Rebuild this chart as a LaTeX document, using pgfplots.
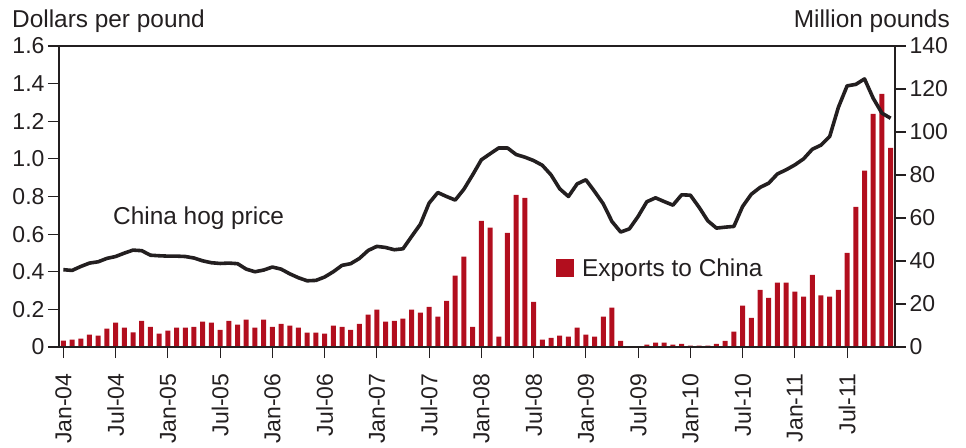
\documentclass[border=0pt]{standalone}
\usepackage{pgfplots}
\pgfplotsset{compat=1.18}
\usepackage{fontspec}
\setmainfont{Liberation Sans}
\definecolor{hogred}{RGB}{178,14,30}
\definecolor{ink}{RGB}{35,31,32}

\begin{document}
\begin{tikzpicture}
\pgfplotsset{
  base/.style={
    width=836pt, height=301pt, scale only axis,
    xmin=-0.5, xmax=95.5,
    font=\fontsize{23}{26}\selectfont,
    /pgf/number format/assume math mode=true,
    tick align=outside,
    major tick length=11pt,
    every tick/.style={ink, line width=1.2pt},
    axis line style={ink, line width=1.2pt},
  }
}
\begin{axis}[base, at={(0,0)}, anchor=south west,
  axis y line*=right, axis x line=none,
  ymin=0, ymax=140, ytick={0,20,40,60,80,100,120,140},
  yticklabel style={ink}]
\addplot[ybar, bar width=5pt, fill=hogred, draw=none] coordinates {
(0,3) (1,3.4) (2,3.9) (3,5.7) (4,5.3) (5,8.5) (6,11.3) (7,9) (8,6.8) (9,12.2) (10,9.4) (11,6.2)
(12,7.6) (13,9) (14,9) (15,9.4) (16,11.8) (17,11.3) (18,8) (19,12.2) (20,10.4) (21,12.7) (22,9) (23,12.7)
(24,9.4) (25,10.8) (26,9.9) (27,9) (28,6.7) (29,6.7) (30,6.2) (31,9.9) (32,9.4) (33,8) (34,10.8) (35,15)
(36,17.4) (37,11.8) (38,12.2) (39,13.2) (40,17.4) (41,16) (42,18.7) (43,14.1) (44,21.5) (45,33.2) (46,42) (47,9.4)
(48,58.7) (49,55.5) (50,4.8) (51,53.1) (52,70.8) (53,69.4) (54,21) (55,3.4) (56,4.3) (57,5.3) (58,4.8) (59,9)
(60,5.7) (61,4.8) (62,14.1) (63,18.3) (64,2.9) (65,0) (66,0) (67,1.1) (68,2) (69,2) (70,1.1) (71,1.5)
(72,0.6) (73,0.6) (74,0.6) (75,1.5) (76,2.9) (77,7.1) (78,19.2) (79,13.6) (80,26.6) (81,22.9) (82,29.9) (83,29.9)
(84,25.7) (85,23.4) (86,33.6) (87,24) (88,23.4) (89,26.6) (90,43.8) (91,65.2) (92,82) (93,108.4) (94,117.7) (95,92.6)
};
\end{axis}
\begin{axis}[base, at={(0,0)}, anchor=south west,
  ymin=0, ymax=1.6, ytick={0,0.2,0.4,0.6,0.8,1.0,1.2,1.4,1.6},
  yticklabels={0,0.2,0.4,0.6,0.8,1.0,1.2,1.4,1.6},
  ytick pos=left, xtick pos=bottom,
  xtick={0,6,12,18,24,30,36,42,48,54,60,66,72,78,84,90},
  xticklabels={Jan-04,Jul-04,Jan-05,Jul-05,Jan-06,Jul-06,Jan-07,Jul-07,Jan-08,Jul-08,Jan-09,Jul-09,Jan-10,Jul-10,Jan-11,Jul-11},
  xticklabel style={rotate=90, anchor=east, ink, xshift=-12pt},
  yticklabel style={ink}]
\addplot[ink, line width=3.6pt, line join=round] coordinates {
(0,0.411) (1,0.407) (2,0.428) (3,0.446) (4,0.453) (5,0.471) (6,0.481) (7,0.499) (8,0.515) (9,0.512) (10,0.488) (11,0.485)
(12,0.483) (13,0.483) (14,0.481) (15,0.473) (16,0.458) (17,0.448) (18,0.444) (19,0.446) (20,0.443) (21,0.414) (22,0.400) (23,0.409)
(24,0.425) (25,0.414) (26,0.389) (27,0.368) (28,0.352) (29,0.354) (30,0.372) (31,0.400) (32,0.434) (33,0.443) (34,0.471) (35,0.513)
(36,0.535) (37,0.529) (38,0.517) (39,0.522) (40,0.588) (41,0.653) (42,0.765) (43,0.821) (44,0.800) (45,0.781) (46,0.839) (47,0.915)
(48,0.995) (49,1.027) (50,1.058) (51,1.058) (52,1.023) (53,1.009) (54,0.991) (55,0.966) (56,0.915) (57,0.841) (58,0.800) (59,0.867)
(60,0.889) (61,0.827) (62,0.761) (63,0.667) (64,0.611) (65,0.628) (66,0.694) (67,0.772) (68,0.793) (69,0.773) (70,0.754) (71,0.809)
(72,0.807) (73,0.743) (74,0.671) (75,0.632) (76,0.637) (77,0.641) (78,0.747) (79,0.812) (80,0.848) (81,0.871) (82,0.920) (83,0.942)
(84,0.968) (85,1.000) (86,1.051) (87,1.073) (88,1.119) (89,1.274) (90,1.388) (91,1.396) (92,1.425) (93,1.322) (94,1.243) (95,1.216)
};
\end{axis}
\node[anchor=base west, inner sep=0pt, ink, font=\fontsize{24.4}{28}\selectfont] at (-47pt,319pt) {Dollars per pound};
\node[anchor=base east, inner sep=0pt, ink, font=\fontsize{24.4}{28}\selectfont] at (891pt,319pt) {Million pounds};
\node[anchor=base west, inner sep=0pt, ink, font=\fontsize{24.4}{28}\selectfont] at (54pt,122pt) {China hog price};
\node[anchor=base west, inner sep=0pt, ink, font=\fontsize{24.4}{28}\selectfont] at (497pt,70pt) {\textcolor{hogred}{\rule{18pt}{18pt}}\hspace{8pt}Exports to China};
\path (-59pt,-97pt) rectangle (907pt,347pt);
\end{tikzpicture}
\end{document}
